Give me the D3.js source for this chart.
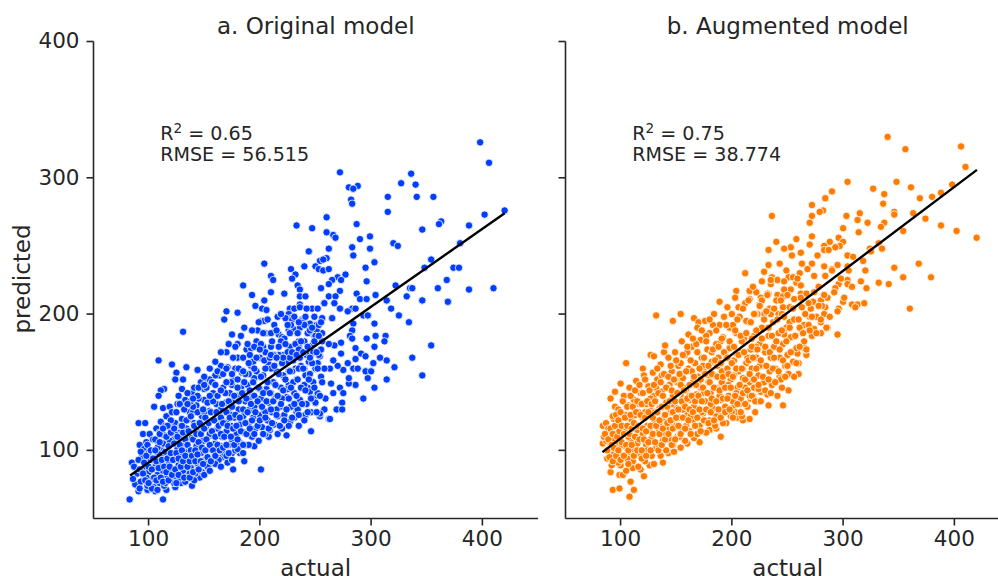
<!DOCTYPE html>
<html>
<head>
<meta charset="utf-8">
<script src="https://cdn.jsdelivr.net/npm/d3@7"></script>
<style>
  body { margin: 0; background: #fff; }
  text { font-family: "DejaVu Sans", sans-serif; fill: #262626; }
</style>
</head>
<body>
<svg id="canvas" width="998" height="576"></svg>
<script>
// [actual, predicted]
var pointsA = [
[398,326],[406,311],[272,304],[336,303],[327,296],[340,295],[280,293],[288,294],[284,292],[315,286],[341,286],[356,286],[282,284],[283,281],[315,275],[420,276],[402,273],[260,271],[388,265],[363,268],[361,266],[346,262],[287,266],[247,263],[260,260],[266,258],[268,256],[299,257],[290,255],[320,252],[324,250],[380,252],[244,246],[262,248],[283,249],[299,248],[284,243],[260,241],[354,240],[303,238],[295,234],[348,234],[374,234],[379,234],[240,235],[254,239],[257,240],[250,235],[253,233],[257,232],[262,233],[277,229],[270,227],[273,225],[265,225],[262,222],[255,219],[296,224],[368,225],[322,221],[335,219],[337,219],[360,219],[388,218],[410,219],[272,217],[287,215],[304,214],[241,213],[262,213],[268,213],[332,213],[290,211],[296,211],[314,210],[346,210],[369,209],[258,208],[267,208],[318,204],[272,204],[279,202],[283,204],[286,204],[242,204],[247,204],[252,204],[325,199],[297,199],[256,197],[265,197],
[233,265],[244,246],[204,237],[240,235],[228,233],[232,229],[210,228],[212,225],[229,226],[185,221],[234,221],[236,218],[210,216],[222,215],[193,214],[236,213],[241,213],[204,210],[236,207],[196,206],[202,204],[206,203],[227,204],[231,204],[236,205],[242,204],[170,202],[180,201],[226,200],[168,196],[228,197],[238,196],[202,195],
[131,187],[109,166],[121,163],[134,161],[144,159],[125,157],[124,152],[131,152],[114,145],[111,144],[109,140],[130,145],[127,140],[105,132],[113,131],[119,132],[91,120],[97,120],[95,112],[92,104],[85,91],[87,88],[83,64],[113,64],[91,70],[99,71],[106,70],[116,71],[124,73],[139,74],[88,75],[101,76],[95,78],[131,77],[146,80],[176,86],[201,86],[186,92],[171,91],[154,89],[195,103],[182,98],[175,98],[166,95],[246,114],[235,118],[241,126],[254,125],[262,123],[224,111],[216,112],[208,110],[227,121],[233,128],[258,130],
[314,210],[346,210],[369,209],[334,194],[303,193],[354,177],[337,168],[346,155],[321,161],[314,152],[314,166],[308,168],[302,164],[313,184],[312,180],[304,184],[296,182],[303,176],[303,146],[293,138],[297,153],[295,158],[300,158],[286,148],[280,149],[280,153],[284,160],[288,160],[286,167],[286,175],[291,171],[295,169],[279,164],[275,159],[270,162],[266,166],[273,171],[273,179],[267,177],[262,178],[284,193],[283,188],[281,184],[283,182],[256,186],[249,184],[244,186],[264,149],[272,146],[275,142],[266,142],[274,135],[259,138],[251,140],[250,135],[243,146],[263,123],[254,125],[258,130],[269,130],[274,130],[241,126],[233,128],[227,121],[235,118],[263,160],[258,160],[250,160],[252,164],[240,160],[254,169],[247,171],[235,176],[232,160],[226,158],[221,170],[217,185],[226,188],[236,190],[245,193],[251,192],[238,195],[229,196],[256,197],[265,197],[293,199],[297,199],[272,204],[279,202],[258,208],[267,208],
[90,83],[94,95],[93,77],[97,88],[96,101],[99,74],[98,106],[100,84],[102,93],[101,112],[103,79],[104,100],[105,73],[106,88],[107,116],[108,96],[108,82],[109,105],[110,76],[111,91],[111,121],[112,100],[113,85],[114,111],[114,74],[115,95],[116,125],[117,81],[117,104],[118,90],[119,117],[120,78],[120,98],[121,128],[122,86],[122,108],[123,94],[124,120],[125,80],[126,101],[126,134],[127,89],[128,113],[129,76],[129,96],[130,123],[131,84],[132,105],[133,137],[134,92],[134,116],[135,81],[136,99],[137,128],[138,87],[139,109],[139,142],[140,94],[141,120],[142,83],[143,103],[143,133],[144,90],[145,113],[146,146],[147,98],[148,125],[148,84],[149,107],[150,137],[151,93],[152,118],[153,88],[153,150],[154,101],[155,129],[156,111],[157,92],[158,142],[158,122],[159,99],[160,105],[161,134],[162,116],[163,93],[164,155],[164,126],[165,103],[166,110],[167,146],[168,121],[168,98],[169,135],[170,114],[171,161],[172,104],[172,128],[173,142],[174,118],[175,108],[176,152],[177,124],[178,100],[178,137],[179,112],[180,168],[181,130],[182,119],[183,105],[183,146],[184,157],[185,125],[186,113],[187,136],[188,174],[188,104],[189,148],[190,120],[191,130],[192,162],[193,110],[193,141],[194,124],[195,153],[196,116],[197,134],[197,180],[198,146],[199,107],[200,126],[200,168],[201,138],[202,117],[203,155],[204,129],[205,112],[205,186],[206,145],[207,122],[208,163],[208,135],[209,115],[210,176],[211,128],[212,150],[213,119],[213,192],[214,139],[215,158],[216,125],[217,170],[218,132],[219,146],[220,116],[220,183],[221,155],[222,126],[223,197],[224,139],[225,165],[226,118],[226,148],[227,176],[228,132],[229,158],[230,189],[231,124],[231,142],[232,168],[233,152],[234,130],[235,180],[236,137],[237,162],[238,146],[239,194],[240,122],[240,172],[241,155],[242,134],[243,186],[244,165],[245,143],[246,128],[247,177],[248,150],[249,198],[250,135],[250,160],[251,188],[252,142],[253,170],[254,127],[255,154],[256,180],
[86,79],[92,72],[98,80],[103,72],[108,71],[115,76],[118,84],[123,76],[128,80],[133,77],[137,83],[141,78],[145,86],[150,82],[155,85],[160,90],[165,88],[170,96],[175,93],[180,101],[185,98],[190,104],[100,98],[104,108],[110,113],[115,118],[119,107],[124,112],[130,110],[135,122],[140,128],[145,120],[150,128],[155,112],[160,122],[165,130],[170,120],[175,126],[180,140],[185,142],[190,138],[195,132],[200,145],[205,128],[210,142],[215,130],[220,138],[225,145],[230,150],[235,160],[240,148],[245,156],[250,172],
[91,93],[92,86],[93,99],[95,83],[96,91],[97,78],[98,96],[99,104],[100,88],[100,76],[102,100],[103,86],[104,94],[105,80],[106,108],[107,92],[107,78],[108,102],[109,87],[110,97],[110,112],[111,80],[112,93],[113,105],[113,77],[114,88],[115,99],[116,84],[116,110],[117,94],[118,78],[118,103],[119,88],[120,113],[120,98],[121,82],[122,93],[123,105],[123,116],[124,86],[125,98],[125,76],[126,110],[127,94],[127,82],[128,104],[129,118],[129,88],[130,100],[131,92],[131,113],[132,80],[133,108],[133,96],[134,122],[135,88],[135,104],[136,114],[137,92],[137,80],[138,100],[138,125],[139,96],[140,108],[140,84],[141,118],[142,100],[142,92],[143,112],[144,128],[144,97],[145,86],[145,106],[146,120],[147,92],[147,112],[148,102],[149,130],[149,90],[150,116],[151,100],[151,124],[152,108],[153,95],[153,135],[154,120],[155,104],[156,128],[156,92],[157,114],[158,100],[158,136],[159,122],[160,110],[160,96],[161,128],[162,104],[162,140],[163,118],[164,100],[165,124],[165,112],[166,134],[167,102],[167,120],[168,110],[169,142],[170,128],[170,104],[171,118],[172,136],[172,98],[173,124],[174,110],[175,132],[175,148],[176,116],[177,104],[177,140],[178,126],[179,118],[180,152],[180,108],[181,136],[182,124],[183,114],[184,142],[185,130],[185,104],[186,150],[187,120],[188,138],[188,112],[189,128],[190,156],[191,144],[191,116],[192,134],[193,122],[194,150],[195,140],[195,112],[196,128],[197,158],[198,118],[198,136],[199,146],[200,122],[201,154],[202,132],[203,112],[203,142],[204,166],[205,124],[206,136],[207,150],[208,116],[209,142],[210,130],[210,160],[211,120],[212,136],[213,170],[214,148],[215,126],[216,140],[217,156],[218,118],[219,134],[220,164],[221,144],[222,122],[223,152],[224,130],[225,172],[226,138],[227,158],[228,146],[229,124],[230,166],[231,134],[232,178],[233,140],[234,152],[235,126],[236,168],[237,146],[238,134],[239,160],[240,180],[241,144],[242,170],[243,128],[244,152],[245,188],[246,138],[247,164],[248,172],[249,146],[250,184],[251,128],[252,160],[253,192],[254,140],[255,174],[256,150],
[175,185],[180,178],[186,190],[192,175],[198,188],[204,195],[210,186],[216,198],[222,182],[228,192],[234,186],[240,192],[194,165],[203,176],[212,170],[219,180],[227,168],[235,174],[160,155],[165,162],[170,172],[178,160],[150,145],[155,152],[145,138],[140,132],
[125,128],[128,134],[132,130],[135,142],[138,136],[141,146],[144,140],[147,150],[150,154],[152,146],[155,160],[157,150],[160,165],[162,158],[165,172],[167,156],[170,160],[172,178],[174,150],[176,168],[178,176],[181,160],[183,184],[185,168],[187,156],[189,178],[191,170],[193,188],[195,176],[197,168],[199,194],[201,178],[203,186],[205,172],[207,196],[209,168],[211,180],[213,162],[215,188],[217,176],[219,200],[221,168],[223,178],[225,192],[227,186],[229,172],[231,198],[233,170],[235,194],[237,180],[239,172],[241,198],[243,176],[245,168],[247,190],[249,180],[251,172],[253,184],[255,194],[120,122],[117,118],[113,116],[110,106],[106,100],[130,118],[135,134],[140,138],[145,146],[150,148],[155,140],[160,148],[165,144],[170,150],[175,156],[180,146],[185,158],[190,164],[195,160],[200,174],[205,160],[210,170],[215,168]
];

var pointsB = [
[108,66],[93,71],[99,72],[112,71],[109,77],[121,81],[91,84],[99,82],[102,82],[92,89],[100,89],[111,87],[118,86],[126,89],[138,91],[143,98],[84,105],[88,94],[84,118],[87,120],[91,138],[95,143],[100,149],[105,164],[95,132],[94,123],[120,160],[127,170],[130,169],[139,172],[140,177],[132,199],[147,195],[154,200],[166,197],[170,194],[154,102],[160,105],[171,106],[190,110],[180,115],[186,116],[195,120],[205,124],[210,122],[216,123],[233,133],[246,133],[213,134],[201,131],[219,140],[213,142],[251,156],[260,156],[238,150],[243,154],[260,164],[259,171],[267,170],[266,174],[264,177],[250,181],[247,185],[263,187],[189,209],[204,217],[216,217],[222,216],[233,215],
[340,330],[356,321],[406,323],[410,308],[304,297],[348,297],[327,292],[337,288],[361,293],[398,295],[388,289],[380,286],[369,285],[290,290],[284,285],[336,281],[272,280],[282,276],[279,275],[346,275],[346,273],[363,274],[315,274],[313,269],[322,267],[303,272],[272,272],[236,272],[270,267],[374,270],[337,267],[334,264],[388,265],[402,261],[420,256],[354,261],[314,260],[300,263],[296,256],[300,253],[288,253],[272,257],[258,255],[240,253],[270,251],[253,249],[247,248],[233,247],[297,250],[293,249],[283,250],[283,247],[287,247],[262,245],[254,243],[277,243],[304,243],[309,242],[324,248],[325,246],[332,252],[335,248],[318,239],[320,232],[346,234],[354,227],[368,237],[379,227],[332,223],[341,222],[321,219],[360,204],[304,225],[304,222],[296,222],[293,219],[295,236],[290,233],[283,235],[304,235],[272,237],[268,233],[263,237],[261,230],[249,232],[243,237],[233,236],[212,230],[229,231],[236,227],[251,227],[255,227],[227,224],[235,222],[241,225],[247,224],[258,223],[262,221],[216,217],[222,216],[232,215],[241,214],[246,213],[253,218],[262,215],[216,211],[225,207],[246,205],[256,211],[273,209],[280,210],[284,205],[296,204],[300,209],[308,207],[313,207],[234,204],[229,200],[235,200],[242,200],[252,194],[265,192],[270,198],[280,194],[283,200],[286,190],[274,189],[295,185],
[87,107],[90,101],[92,114],[94,97],[93,125],[96,104],[97,119],[98,91],[98,130],[100,110],[101,96],[102,126],[103,140],[104,103],[105,85],[105,116],[107,133],[108,96],[108,146],[109,108],[110,122],[111,92],[112,137],[113,102],[114,151],[115,115],[116,88],[116,128],[118,97],[118,142],[119,110],[120,124],[121,155],[122,92],[123,104],[123,134],[124,118],[125,147],[126,99],[127,129],[128,109],[129,157],[130,90],[130,140],[131,121],[132,102],[133,152],[134,113],[135,131],[136,96],[136,163],[137,143],[138,107],[139,124],[140,155],[141,100],[141,135],[142,116],[143,168],[144,148],[145,108],[145,128],[146,158],[147,140],[148,99],[148,119],[149,172],[150,131],[151,110],[151,150],[152,162],[153,124],[154,141],[155,180],[155,116],[156,153],[157,134],[158,107],[158,170],[159,145],[160,126],[161,185],[161,160],[162,114],[163,137],[164,176],[165,150],[165,122],[166,109],[167,164],[168,141],[169,190],[169,130],[170,154],[171,118],[172,181],[172,146],[173,168],[174,127],[175,158],[176,136],[176,195],[177,113],[178,174],[179,150],[180,122],[180,186],[181,142],[182,165],[183,131],[184,200],[184,155],[185,118],[186,178],[187,146],[188,126],[188,168],[189,192],[190,137],[191,158],[192,120],[192,183],[193,148],[194,172],[195,130],[196,205],[196,160],[197,140],[198,190],[199,125],[199,152],[200,176],[201,136],[202,166],[203,212],[203,128],[204,186],[205,146],[206,158],[207,198],[207,134],[208,172],[209,125],[210,153],[211,182],[211,142],[212,208],[213,164],[214,132],[215,194],[216,150],[217,174],[217,138],[218,160],[219,220],[220,184],[220,146],[221,128],[222,168],[223,200],[223,136],[224,155],[225,178],[226,212],[226,143],[227,190],[228,162],[229,150],[230,172],[231,202],[232,141],[233,184],[234,158],[235,225],[235,168],[236,148],[237,194],[238,176],[239,160],[240,210],[241,140],[242,186],[243,168],[244,152],[245,200],[246,178],[247,218],[248,162],[249,190],[250,170],[251,144],[252,205],[253,183],[255,165],[256,196],[258,175],[259,226],[261,190],[263,205],[265,180],[267,215],[269,192],[271,204],[272,184],[274,228],[276,198],[278,220],[280,186],[281,206],[284,228],[286,212],[288,198],[290,232],[292,216],[295,202],[298,226],[301,212],[305,232],[308,220],[311,205],[316,224],[319,208],
[85,110],[89,116],[91,104],[93,108],[96,112],[99,122],[101,104],[104,126],[106,94],[107,110],[109,118],[111,100],[113,126],[115,105],[117,134],[119,94],[120,112],[122,128],[124,100],[126,116],[127,138],[128,96],[131,128],[132,146],[134,104],[135,120],[137,155],[138,132],[140,112],[142,146],[144,122],[146,134],[147,104],[149,152],[150,118],[152,142],[153,110],[154,164],[156,130],[157,146],[159,118],[160,172],[162,140],[163,125],[164,158],[166,132],[168,178],[169,112],[170,148],[173,128],[174,162],[175,142],[177,184],[178,120],[179,155],[181,134],[182,172],[183,192],[185,146],[186,125],[187,162],[189,140],[190,180],[191,150],[193,198],[194,132],[195,168],[197,148],[198,175],[200,128],[201,192],[202,155],[204,142],[205,170],[206,205],[208,138],[209,180],[210,160],[212,146],[213,195],[214,168],[216,140],[218,182],[219,152],[221,200],[222,176],[224,145],[225,162],[227,210],
[86,112],[88,100],[89,108],[90,95],[91,116],[92,104],[93,92],[93,112],[94,102],[95,118],[96,96],[96,126],[97,110],[98,100],[98,122],[99,114],[100,93],[100,128],[101,106],[101,118],[102,136],[103,96],[103,112],[104,124],[105,104],[106,118],[106,132],[107,100],[107,90],[108,112],[109,126],[109,140],[110,104],[110,116],[111,132],[112,96],[112,120],[113,110],[113,144],[114,128],[115,100],[115,136],[116,118],[117,108],[117,148],[118,126],[119,100],[119,134],[120,116],[120,142],[121,108],[122,124],[122,152],[123,96],[123,114],[124,136],[125,128],[125,106],[126,144],[127,118],[127,100],[128,134],[129,124],[129,112],[130,148],[131,106],[131,136],[132,118],[133,128],[133,160],[134,100],[134,142],[135,122],[135,112],[136,150],[137,132],[137,104],[138,116],[138,140],[139,156],[140,126],[140,108],[141,146],[142,132],[142,120],[143,112],[143,154],[144,136],[145,122],[145,162],[146,104],[146,144],[147,128],[147,116],[148,152],[149,136],[149,108],[150,124],[150,166],[151,142],[152,118],[152,130],[153,156],[154,112],[154,148],[155,136],[156,124],[156,170],[157,144],[158,116],[158,132],[159,158],[160,138],[160,176],[161,122],[162,148],[162,130],[163,112],[163,166],[164,140],[165,128],[165,182],[166,154],[167,118],[167,136],[168,148],[169,124],[169,172],[170,140],[171,160],[171,130],[172,114],[172,152],[173,188],[173,136],[174,146],[175,122],[175,168],[176,156],[177,130],[177,180],[178,142],[179,120],[179,162],[180,150],[180,196],[181,128],[182,156],[182,138],[183,174],[184,146],[184,122],[185,166],[186,136],[186,188],[187,154],[188,130],[188,176],[189,144],[190,164],[190,124],[191,182],[192,138],[192,154],[193,172],[194,146],[194,128],[195,192],[196,138],[196,168],[197,156],[198,130],[198,180],[199,146],[200,164],[200,200],[201,124],[201,154],[202,176],[203,140],[203,188],[204,160],[205,134],[205,196],[206,170],[207,148],[208,184],[208,128],[209,160],[210,142],[210,204],[211,172],[212,152],[212,134],[213,186],[214,144],[215,166],[215,210],[216,156],[217,194],[218,140],[218,176],[219,168],[220,152],[220,200],[221,136],[222,188],[222,160],[223,174],[224,148],[225,206],[226,166],[226,136],[227,182],[228,154],[229,196],[230,144],[230,176],[231,162],[232,214],[233,152],[233,190],[234,172],[235,142],[236,184],[237,160],[238,204],[238,168],[239,150],[240,180],[241,196],[242,158],[243,174],[244,210],[245,146],[245,188],[246,166],[247,198],[248,154],[249,180],[250,162],[250,214],[252,190],[253,172],[255,204],[256,154],[257,184],[258,164],[260,196],[261,176],[262,212],[264,186],[266,200],[267,174],[269,208],[270,188],[272,198],[274,216],[276,186],[278,206],[280,196],[283,214],[285,190]
];

// regression lines, start and end
var lineA = [[83.4, 81.5], [420, 274]];
var lineB = [[83.7, 98.7], [420.3, 305.8]];

var xTicks = [100, 200, 300, 400];
var yTicks = [100, 200, 300, 400];
var titles = ["a. Original model", "b. Augmented model"];
var r2Labels = ["0.65", "0.75"];
var rmseLabels = ["56.515", "38.774"];
var colors = ["#023eff", "#ff7c00"];

var svg = d3.select("#canvas");

var panelWidth = 444.5;
var panelHeight = 477;
var marginTop = 41.5;
var lefts = [93.5, 565.5];

var x = d3.scaleLinear().domain([50.5, 450]).range([0, panelWidth]);
var y = d3.scaleLinear().domain([50, 400]).range([panelHeight, 0]);

function drawPanel(i, points, fit) {
    var g = svg.append("g")
        .attr("transform", "translate(" + lefts[i] + "," + marginTop + ")");

    g.append("g")
        .attr("transform", "translate(0," + panelHeight + ")")
        .call(d3.axisBottom(x).tickValues(xTicks).tickSizeInner(7).tickSizeOuter(0).tickPadding(5).offset(0));
    g.append("g")
        .call(d3.axisLeft(y).tickValues(yTicks).tickSizeInner(7).tickSizeOuter(0).tickPadding(7).offset(0)
            .tickFormat(i == 0 ? null : ""));
    g.selectAll(".domain, .tick line").attr("stroke", "#262626").attr("stroke-width", 1.6);
    g.selectAll(".tick text").attr("font-size", 21.5);

    g.selectAll("circle")
        .data(points)
        .enter().append("circle")
        .attr("cx", function(d){ return x(d[0]); })
        .attr("cy", function(d){ return y(d[1]); })
        .attr("r", 3.7)
        .attr("fill", colors[i])
        .attr("stroke", "#fff")
        .attr("stroke-width", 0.8);

    g.append("path")
        .attr("d", d3.line()
            .x(function(d){ return x(d[0]); })
            .y(function(d){ return y(d[1]); })(fit))
        .attr("fill", "none")
        .attr("stroke", "#000")
        .attr("stroke-width", 2.4);

    g.append("text")
        .attr("x", panelWidth / 2)
        .attr("y", -8)
        .attr("text-anchor", "middle")
        .attr("font-size", 23)
        .text(titles[i]);

    // annotation
    var r2 = g.append("text")
        .attr("x", x(110.5))
        .attr("y", 98)
        .attr("font-size", 19.1);
    r2.append("tspan").text("R");
    r2.append("tspan").attr("dy", -7).attr("font-size", 13.5).text("2");
    r2.append("tspan").attr("dy", 7).text(" = " + r2Labels[i]);
    g.append("text")
        .attr("x", x(110.5))
        .attr("y", 119)
        .attr("font-size", 19.1)
        .text("RMSE = " + rmseLabels[i]);

    g.append("text")
        .attr("x", panelWidth / 2)
        .attr("y", panelHeight + 57)
        .attr("text-anchor", "middle")
        .attr("font-size", 23)
        .text("actual");
}

drawPanel(0, pointsA, lineA);
drawPanel(1, pointsB, lineB);

svg.append("text")
    .attr("transform", "translate(30," + 279 + ") rotate(-90)")
    .attr("text-anchor", "middle")
    .attr("font-size", 23)
    .text("predicted");
</script>
</body>
</html>
